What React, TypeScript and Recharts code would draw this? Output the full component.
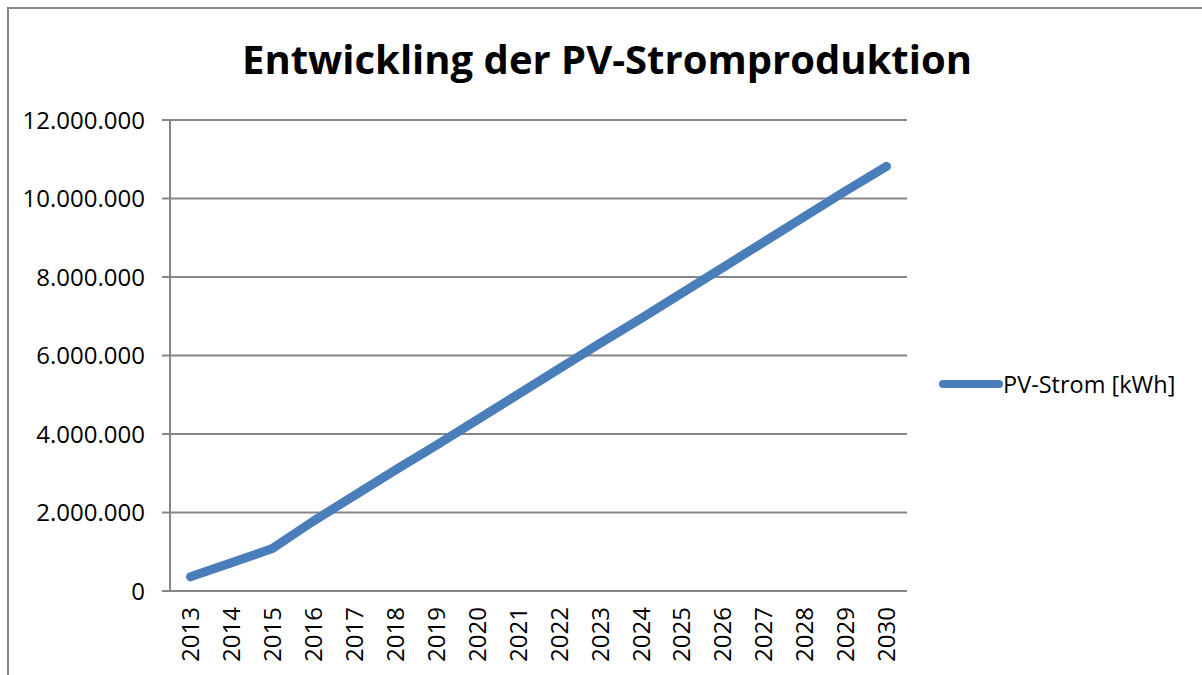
import { LineChart, Line, XAxis, YAxis, CartesianGrid, Legend } from 'recharts'

const years = [
  '2013', '2014', '2015', '2016', '2017', '2018', '2019', '2020', '2021',
  '2022', '2023', '2024', '2025', '2026', '2027', '2028', '2029', '2030',
]
const pvStrom = [
  360000, 720000, 1080000, 1780000, 2430000, 3080000, 3710000, 4360000, 5010000,
  5660000, 6310000, 6940000, 7590000, 8240000, 8890000, 9540000, 10190000, 10820000,
]
const yTicks = [0, 2000000, 4000000, 6000000, 8000000, 10000000, 12000000]
// category boundaries, used only for the tick marks between the years
const boundaryTicks = [0, 1, 2, 3, 4, 5, 6, 7, 8, 9, 10, 11, 12, 13, 14, 15, 16, 17, 18]

const data = years.map((year, i) => ({ year, idx: i + 0.5, value: pvStrom[i] }))

const FONT = '"Open Sans", "Noto Sans", sans-serif'
const GRID = '#868686'
const BLUE = '#4a7ebb'

const fmt = (v: number) => String(v).replace(/\B(?=(\d{3})+(?!\d))/g, '.')

function YearTick({ x, y, payload }: any) {
  return (
    <g transform={`translate(${x},${y})`}>
      <text transform="rotate(-90)" textAnchor="end" dy="0.36em" fontSize={24} fontFamily={FONT} fill="#000">
        {payload.value}
      </text>
    </g>
  )
}

function LegendContent({ payload }: any) {
  return (
    <div style={{ display: 'flex', alignItems: 'center' }}>
      {(payload || []).map((p: any) => (
        <div key={p.value} style={{ display: 'flex', alignItems: 'center' }}>
          <svg width={64} height={12} style={{ display: 'block' }}>
            <line x1={4} y1={6} x2={60} y2={6} stroke={BLUE} strokeWidth={8} strokeLinecap="round" />
          </svg>
          <span style={{ fontFamily: FONT, fontSize: 23.5, color: '#000', whiteSpace: 'nowrap' }}>{p.value}</span>
        </div>
      ))}
    </div>
  )
}

export default function App() {
  return (
    <div style={{ position: 'absolute', left: 0, top: 0, width: 1202, height: 675, overflow: 'hidden', background: '#fff' }}>
      <div style={{ position: 'absolute', left: 7, top: 7, width: 1300, height: 800, borderLeft: `2px solid ${GRID}`, borderTop: `2px solid ${GRID}` }} />
      <div style={{ position: 'absolute', left: 0, top: 39, width: 1214, textAlign: 'center', fontFamily: FONT, fontWeight: 700, fontSize: 40, lineHeight: 1, color: '#000' }}>
        Entwickling der PV-Stromproduktion
      </div>
      <LineChart width={1202} height={675} data={data} margin={{ top: 120, right: 295, bottom: 0, left: 0 }} style={{ position: 'absolute', left: 0, top: 0 }}>
        <CartesianGrid vertical={false} stroke={GRID} strokeWidth={2} yAxisId="val" xAxisId="edges" />
        <XAxis
          xAxisId="edges"
          type="number"
          dataKey="idx"
          domain={[0, 18]}
          ticks={boundaryTicks}
          height={0}
          tick={() => <g />}
          tickSize={8}
          axisLine={{ stroke: GRID, strokeWidth: 2 }}
          tickLine={{ stroke: GRID, strokeWidth: 2 }}
        />
        <XAxis
          xAxisId="cat"
          dataKey="year"
          scale="band"
          height={84}
          interval={0}
          axisLine={false}
          tickLine={false}
          tickSize={0}
          tickMargin={16}
          tick={<YearTick />}
        />
        <YAxis
          yAxisId="val"
          width={170}
          domain={[0, 12000000]}
          ticks={yTicks}
          interval={0}
          tickFormatter={fmt}
          tickSize={8}
          tickMargin={17}
          axisLine={{ stroke: GRID, strokeWidth: 2 }}
          tickLine={{ stroke: GRID, strokeWidth: 2 }}
          tick={{ fontSize: 24, fontFamily: FONT, fill: '#000' }}
        />
        <Legend
          layout="horizontal"
          align="center"
          verticalAlign="middle"
          content={<LegendContent />}
          wrapperStyle={{ left: 939, top: 368, width: 262 }}
        />
        <Line
          xAxisId="cat"
          yAxisId="val"
          type="linear"
          dataKey="value"
          name="PV-Strom [kWh]"
          stroke={BLUE}
          strokeWidth={9}
          strokeLinecap="round"
          strokeLinejoin="round"
          dot={false}
          activeDot={false}
          isAnimationActive={false}
        />
      </LineChart>
    </div>
  )
}
